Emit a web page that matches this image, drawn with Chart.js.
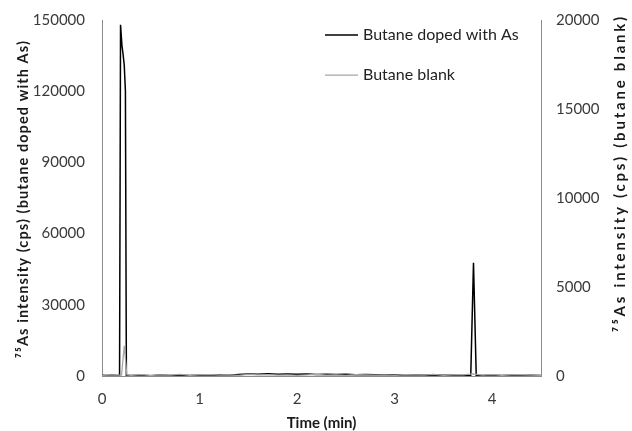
<!DOCTYPE html>
<html><head><meta charset="utf-8">
<script src="https://cdn.jsdelivr.net/npm/chart.js@4.4.1/dist/chart.umd.min.js"></script>
<style>html,body{margin:0;padding:0;background:#fff}#wrap{width:632px;height:431px}</style>
</head><body><div id="wrap"><canvas id="c" width="632" height="431"></canvas></div>
<script>
const seriesLabels = ['Butane doped with As', 'Butane blank'];
const timeDoped = [0,0.05,0.1,0.15,0.18,0.19,0.205,0.215,0.228,0.24,0.25,0.3,0.4,0.5,0.6,0.7,0.8,0.9,1.0,1.1,1.2,1.3,1.4,1.5,1.6,1.7,1.8,1.9,2.0,2.1,2.2,2.3,2.4,2.5,2.6,2.7,2.8,2.9,3.0,3.1,3.2,3.3,3.4,3.5,3.6,3.7,3.78,3.808,3.836,3.9,4.0,4.1,4.2,4.3,4.4,4.5];
const intensityDoped = [300,200,450,250,300,148000,139000,136000,131000,120000,300,200,350,150,400,250,300,200,350,250,400,300,600,800,700,900,750,850,700,800,650,750,600,700,550,600,500,550,450,400,450,350,400,300,350,250,300,47700,300,250,300,200,350,250,300,200];
const timeBlank = [0,0.1,0.2,0.228,0.255,0.3,0.4,0.5,0.6,0.7,0.8,0.9,1.0,1.1,1.2,1.3,1.4,1.5,1.6,1.7,1.8,1.9,2.0,2.1,2.2,2.3,2.4,2.5,2.6,2.7,2.8,2.9,3.0,3.1,3.2,3.3,3.4,3.5,3.6,3.7,3.8,3.9,4.0,4.1,4.2,4.3,4.4,4.5];
const intensityBlank = [40,70,50,1700,60,40,80,30,70,50,90,40,60,80,50,70,40,90,60,80,50,70,40,60,90,50,70,40,80,60,50,70,40,80,60,50,90,40,70,60,120,50,80,40,70,60,50,40];
const timeTicks = [0,1,2,3,4];
const leftTicks = [0,30000,60000,90000,120000,150000];
const rightTicks = [0,5000,10000,15000,20000];
const xTitle = 'Time (min)';
const leftTitle = '\u2077\u2075As intensity (cps) (butane doped with As)';
const rightTitle = '\u2077\u2075As intensity (cps) (butane blank)';

const FONT = 'Lato, "Open Sans", sans-serif';
const tickFont = {family: FONT, size: 15};
const tickColor = '#3a3a3a';
const axisColor = '#8c8c8c';

function pts(xs, ys){ return xs.map((x,i)=>({x:x, y:ys[i]})); }
function setTicks(arr){ return function(scale){ scale.ticks = arr.map(v=>({value:v})); }; }
function fixWidth(w){ return function(s){ s.width = w; s.paddingTop = 0; s.paddingBottom = 0; }; }

function drawTitle(ctx, text, cx, cy, rot, target, size){
  ctx.save();
  ctx.font = 'bold ' + size + 'px ' + FONT;
  if (target) {
    const w = ctx.measureText(text).width;
    const n = Array.from(text).length;
    if ('letterSpacing' in ctx) {
      ctx.letterSpacing = ((target - w) / n).toFixed(2) + 'px';
    } else {
      ctx.font = 'bold ' + (size * target / w).toFixed(2) + 'px ' + FONT;
    }
  }
  ctx.translate(cx, cy);
  ctx.rotate(rot);
  ctx.textAlign = 'center';
  ctx.textBaseline = 'middle';
  ctx.fillStyle = '#1a1a1a';
  ctx.fillText(text, 0, 0);
  ctx.restore();
}

const annotPlugin = {
  id: 'annot',
  afterDraw(chart){
    const ctx = chart.ctx;
    const ca = chart.chartArea;
    drawTitle(ctx, xTitle, (ca.left+ca.right)/2, 423, 0, 0, 15);
    drawTitle(ctx, leftTitle, 23, 199, -Math.PI/2, 318, 14.5);
    drawTitle(ctx, rightTitle, 620, 173, -Math.PI/2, 318, 15);
    ctx.save();
    ctx.font = '16px ' + FONT;
    ctx.textBaseline = 'middle';
    ctx.textAlign = 'left';
    chart.data.datasets.forEach((ds, i) => {
      const y = 35 + i*40;
      ctx.strokeStyle = ds.borderColor;
      ctx.lineWidth = ds.borderWidth;
      ctx.beginPath(); ctx.moveTo(325, y); ctx.lineTo(358, y); ctx.stroke();
      ctx.fillStyle = '#222';
      ctx.fillText(ds.label, 363, y);
    });
    ctx.restore();
  }
};

new Chart(document.getElementById('c'), {
  type: 'line',
  data: {
    datasets: [
      {label: seriesLabels[0], data: pts(timeDoped, intensityDoped), yAxisID: 'y', borderColor: '#000000', borderWidth: 1.5, pointRadius: 0, tension: 0, order: 2},
      {label: seriesLabels[1], data: pts(timeBlank, intensityBlank), yAxisID: 'y2', borderColor: '#a6a6a6', borderWidth: 1.25, pointRadius: 0, tension: 0, order: 1}
    ]
  },
  options: {
    responsive: false,
    animation: false,
    devicePixelRatio: 1,
    layout: {padding: {top: 20, left: 0, right: 0, bottom: 0}},
    plugins: {legend: {display: false}, tooltip: {enabled: false}},
    scales: {
      x: {
        type: 'linear', position: 'bottom', min: 0, max: 4.5,
        afterBuildTicks: setTicks(timeTicks),
        afterFit: s => { s.height = 55; s.paddingLeft = 0; s.paddingRight = 0; },
        grid: {display: false, drawTicks: false},
        border: {display: true, color: axisColor, width: 1},
        ticks: {font: tickFont, color: tickColor, padding: 14, maxRotation: 0}
      },
      y: {
        type: 'linear', position: 'left', min: 0, max: 150000,
        afterBuildTicks: setTicks(leftTicks),
        afterFit: fixWidth(102),
        grid: {display: false, drawTicks: false},
        border: {display: true, color: axisColor, width: 1},
        ticks: {font: tickFont, color: tickColor, padding: 17, callback: v => String(v)}
      },
      y2: {
        type: 'linear', position: 'right', min: 0, max: 20000,
        afterBuildTicks: setTicks(rightTicks),
        afterFit: fixWidth(91),
        grid: {display: false, drawTicks: false},
        border: {display: true, color: axisColor, width: 1},
        ticks: {font: tickFont, color: tickColor, padding: 15, callback: v => String(v)}
      }
    }
  },
  plugins: [annotPlugin]
});
</script>
</body></html>
